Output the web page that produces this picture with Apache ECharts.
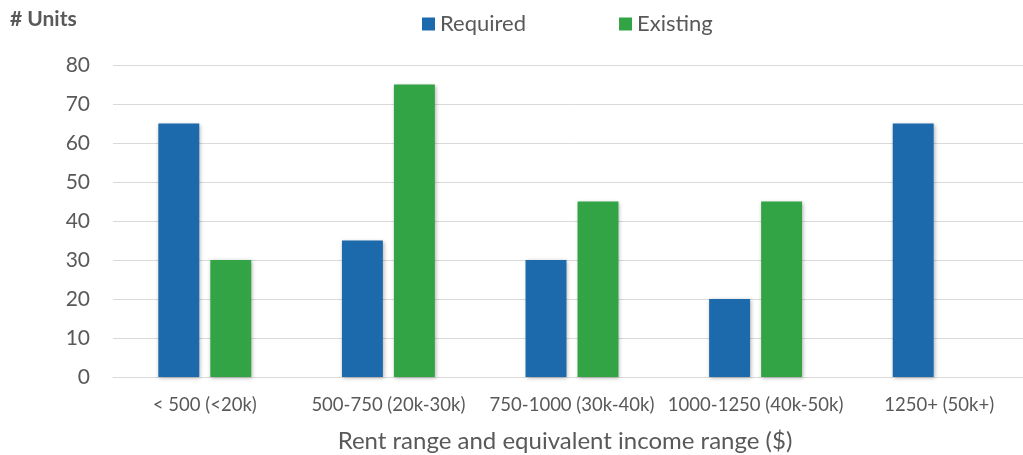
<!DOCTYPE html>
<html><head><meta charset="utf-8">
<script src="https://cdn.jsdelivr.net/npm/echarts@6/dist/echarts.min.js"></script>
<style>html,body{margin:0;padding:0;background:#fff;overflow:hidden}#c{width:1023px;height:455px}</style>
</head><body><div id="c"></div>
<script>
const categories = ['< 500 (<20k)', '500-750 (20k-30k)', '750-1000 (30k-40k)', '1000-1250 (40k-50k)', '1250+ (50k+)'];
const required = [65, 35, 30, 20, 65];
const existing = [30, 75, 45, 45, 0];
const yTicks = { min: 0, max: 80, interval: 10 };

const chart = echarts.init(document.getElementById('c'), null, { renderer: 'canvas' });
const font = 'Lato, "Open Sans", sans-serif';
const shadow = { shadowBlur: 4, shadowColor: 'rgba(0,0,0,0.3)', shadowOffsetX: 1, shadowOffsetY: 1 };
chart.setOption({
  animation: false,
  title: { text: '# Units', left: 5, top: 4, textStyle: { fontFamily: font, fontSize: 21, fontWeight: 'bold', color: '#595959' } },
  legend: {
    top: 8, left: 417, itemGap: 93, itemWidth: 13, itemHeight: 13, icon: 'rect',
    textStyle: { fontFamily: font, fontSize: 22, color: '#595959' },
    data: ['Required', 'Existing']
  },
  grid: { left: 113, right: -8, top: 65, bottom: 78, containLabel: false, outerBoundsMode: 'none' },
  xAxis: {
    type: 'category', data: categories,
    axisLine: { lineStyle: { color: '#d9d9d9', width: 1 } },
    axisTick: { show: false },
    axisLabel: { fontFamily: font, fontSize: 18.5, color: '#595959', margin: 19, interval: 0 },
    name: 'Rent range and equivalent income range ($)', nameLocation: 'middle', nameGap: 52,
    nameTextStyle: { fontFamily: font, fontSize: 24, color: '#595959', padding: [0, 14, 0, 0] }
  },
  yAxis: {
    type: 'value', min: yTicks.min, max: yTicks.max, interval: yTicks.interval,
    axisLine: { show: false }, axisTick: { show: false },
    splitLine: { lineStyle: { color: '#d9d9d9', width: 1 } },
    axisLabel: { fontFamily: font, fontSize: 21, color: '#595959', margin: 23 }
  },
  series: [
    { name: 'Required', type: 'bar', data: required, barWidth: '22.3%', barGap: '27%',
      itemStyle: Object.assign({ color: '#1c6aab' }, shadow) },
    { name: 'Existing', type: 'bar', data: existing, barWidth: '22.3%',
      itemStyle: Object.assign({ color: '#33a445' }, shadow) }
  ]
});
</script></body></html>
